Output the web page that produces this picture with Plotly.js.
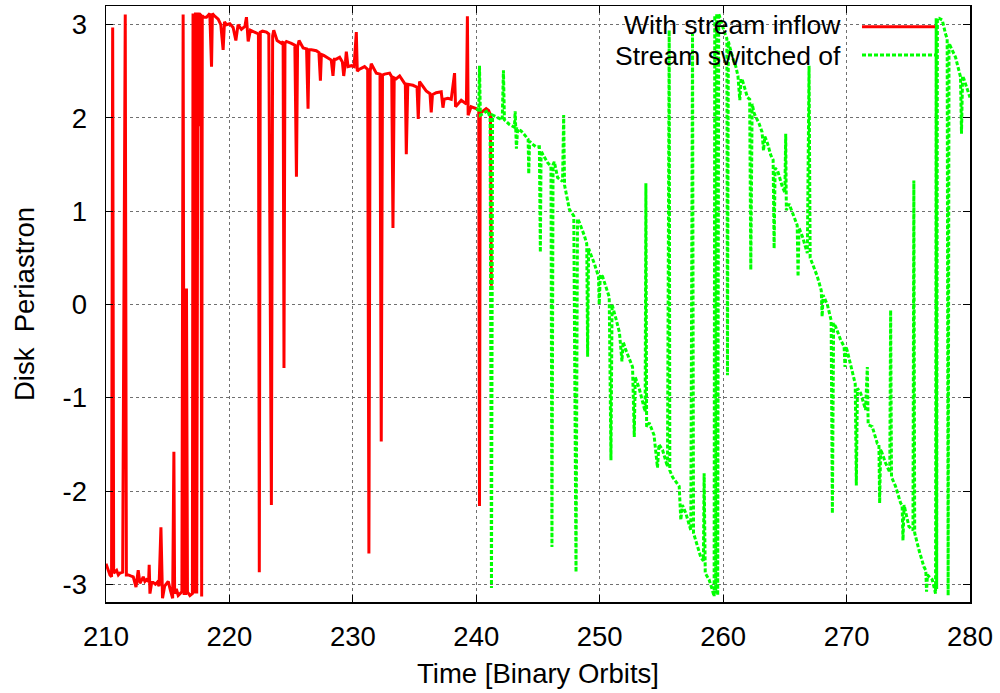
<!DOCTYPE html>
<html>
<head>
<meta charset="utf-8">
<script src="https://cdn.plot.ly/plotly-3.0.1.min.js"></script>
<style>html,body{margin:0;padding:0;background:#fff;}#chart{width:1000px;height:693px;}</style>
</head>
<body>
<div id="chart"></div>
<script>
// Series 1: "With stream inflow"
const redTime = [210.0,210.15,210.32,210.45,210.54,210.62,210.86,211.0,211.13,211.35,211.56,211.65,211.81,212.0,212.21,212.43,212.61,212.75,212.9,213.02,213.15,213.29,213.45,213.5,213.56,213.7,213.83,214.0,214.15,214.3,214.45,214.52,214.58,214.75,214.9,215.04,215.23,215.4,215.5,215.56,215.7,215.85,216.0,216.15,216.25,216.33,216.45,216.52,216.6,216.8,217.0,217.05,217.15,217.25,217.35,217.45,217.5,217.55,217.7,217.75,217.8,217.87,218.14,218.41,218.55,218.62,218.74,219.09,219.3,219.49,219.6,219.76,220.03,220.3,220.52,220.7,220.97,221.25,221.38,221.52,221.7,222.05,222.35,222.42,222.5,222.68,223.0,223.19,223.4,223.5,223.59,223.86,224.21,224.35,224.42,224.5,224.62,225.02,225.3,225.43,225.52,225.64,225.97,226.25,226.37,226.45,226.64,227.04,227.25,227.37,227.45,227.64,227.99,228.25,228.39,228.5,228.66,228.93,229.15,229.26,229.4,229.47,229.61,229.88,230.1,230.28,230.36,230.5,230.95,231.2,231.3,231.4,231.49,231.9,232.2,232.3,232.4,232.57,232.98,233.15,233.25,233.35,233.52,233.79,234.19,234.25,234.33,234.45,234.87,235.2,235.3,235.4,235.94,236.25,236.35,236.45,236.75,237.16,237.3,237.4,237.7,237.97,238.24,238.32,238.78,239.05,239.2,239.28,239.34,239.58,239.99,240.2,240.26,240.32,240.6,240.8,241.0,241.15,241.22];
const redPeri = [-2.78,-2.84,-2.9,-2.92,2.97,-2.88,-2.85,-2.9,-2.88,-2.87,3.11,-2.9,-2.9,-2.91,-2.92,-3.03,-2.85,-2.99,-2.94,-2.92,-2.97,-2.95,-2.97,-2.79,-3.1,-2.98,-2.98,-3.0,-2.98,-3.02,-2.39,-3.02,-3.15,-3.02,-3.0,-2.97,-3.07,-3.15,-1.58,-3.1,-3.05,-3.12,-3.1,-3.08,3.11,-3.1,-3.1,0.17,-3.08,-3.12,-3.1,3.12,-3.1,3.13,-3.1,3.13,1.91,3.12,3.1,-3.13,3.1,3.08,3.08,3.12,2.55,3.12,3.1,3.06,3.0,2.73,3.03,3.0,3.01,2.97,2.83,3.0,2.95,2.98,3.08,2.82,2.94,2.92,2.9,-2.87,2.92,2.93,2.92,2.9,-2.15,2.88,2.94,2.83,2.8,2.82,-0.68,2.8,2.82,2.8,2.78,1.37,2.76,2.83,2.75,2.74,2.1,2.73,2.73,2.72,2.7,2.4,2.68,2.67,2.64,2.62,2.45,2.63,2.63,2.65,2.6,2.45,2.6,2.71,2.55,2.56,2.55,2.92,2.5,2.52,2.55,2.52,-2.67,2.5,2.58,2.48,2.47,-1.47,2.46,2.47,2.48,2.44,0.82,2.43,2.42,2.45,2.37,2.38,1.61,2.36,2.35,2.33,1.99,2.39,2.29,2.26,2.06,2.25,2.27,2.28,2.11,2.2,2.21,2.2,2.48,2.12,2.19,2.17,2.15,3.09,2.03,2.12,2.1,2.08,-2.16,2.05,2.08,2.1,2.08,2.03,0.2];

// Series 2: "Stream switched of"
const greenTime = [239.99,240.2,240.26,240.33,240.6,240.93,241.12,241.23,241.32,241.5,241.74,242.1,242.2,242.28,242.68,243.09,243.15,243.25,243.35,243.63,244.03,244.2,244.25,244.32,244.44,244.84,245.11,245.19,245.25,245.38,245.78,246.05,246.13,246.22,246.32,246.59,246.99,247.08,247.15,247.27,247.54,247.9,248.08,248.2,248.35,248.75,248.95,249.02,249.1,249.15,249.56,249.9,249.96,250.05,250.23,250.5,250.77,250.91,251.0,251.31,251.6,251.8,251.9,252.12,252.66,252.8,252.88,253.2,253.47,253.68,253.74,253.8,254.01,254.4,254.68,254.8,255.09,255.49,255.63,255.68,255.9,256.2,256.44,256.57,256.7,256.98,257.38,257.52,257.6,257.78,258.19,258.4,258.46,258.55,258.86,259.1,259.27,259.32,259.4,259.48,259.56,259.64,259.9,260.1,260.3,260.35,260.42,260.76,261.03,261.2,261.35,261.45,261.57,261.97,262.15,262.24,262.35,262.51,262.91,263.15,263.27,263.38,263.59,263.86,264.05,264.13,264.21,264.4,264.8,265.0,265.07,265.12,265.34,265.75,266.0,266.07,266.15,266.42,266.82,266.96,267.05,267.23,267.63,267.95,268.02,268.1,268.44,268.75,268.85,268.95,269.12,269.52,269.8,269.87,269.95,270.06,270.47,270.7,270.79,270.88,271.14,271.54,271.68,271.75,272.08,272.49,272.62,272.68,272.76,273.16,273.5,273.57,273.64,273.97,274.38,274.5,274.57,274.66,275.05,275.38,275.45,275.52,275.86,276.26,276.42,276.48,276.55,276.94,277.21,277.26,277.3,277.36,277.48,277.75,278.02,278.15,278.23,278.3,278.83,279.23,279.31,279.4,279.5,279.85,280.0];
const greenPeri = [2.1,2.08,2.56,2.03,2.05,2.08,2.0,-3.04,2.03,2.02,2.0,1.98,2.51,1.98,1.93,1.9,2.07,1.67,1.88,1.86,1.8,1.77,1.4,1.75,1.73,1.69,1.69,0.56,1.65,1.61,1.52,1.48,-2.6,1.5,1.53,1.36,1.32,2.03,1.28,1.2,1.02,0.95,-2.87,0.92,0.88,0.74,0.65,-0.56,0.6,0.58,0.44,0.3,0.0,0.32,0.3,0.18,0.08,-1.67,0.0,-0.15,-0.3,-0.61,-0.4,-0.49,-0.67,-1.42,-0.78,-0.9,-1.06,-1.15,1.3,-1.31,-1.27,-1.4,-1.75,-1.5,-1.56,-1.74,2.94,-1.78,-1.85,-1.9,-1.95,-2.31,-2.15,-2.24,-2.42,2.9,-2.45,-2.53,-2.71,-2.75,-1.81,-2.88,-2.95,-3.05,-3.13,3.1,-3.1,3.12,-3.12,3.12,3.0,2.92,2.85,-0.76,2.82,2.65,2.55,2.45,2.19,2.42,2.4,2.22,2.2,0.37,2.15,2.05,1.94,1.85,1.65,1.8,1.73,1.6,1.55,0.6,1.46,1.44,1.26,1.2,1.83,1.01,1.08,0.94,0.85,0.3,0.82,0.73,0.55,2.56,0.5,0.44,0.3,0.15,-0.13,0.1,0.0,-0.17,-2.24,-0.2,-0.24,-0.38,-0.45,-0.67,-0.45,-0.5,-0.74,-0.85,-1.94,-0.9,-0.95,-1.13,-0.67,-1.29,-1.31,-1.49,-1.5,-2.13,-1.55,-1.7,-1.8,-0.06,-1.85,-1.95,-2.13,-2.15,-2.53,-2.15,-2.38,-2.42,1.33,-2.45,-2.63,-2.81,-2.85,-3.08,-2.9,-2.95,-3.1,3.07,-3.05,3.07,3.07,3.05,2.9,2.85,-3.12,2.8,2.65,2.44,1.83,2.45,2.42,2.26,2.22];

const seriesNames = ['With stream inflow', 'Stream switched of'];
const xTicks = [210, 220, 230, 240, 250, 260, 270, 280];
const yTicks = [-3, -2, -1, 0, 1, 2, 3];

const FONT = 'Liberation Sans, Arial, Helvetica, sans-serif';
const FS = 27.5;
const KEYFS = 26.5;

const traces = [
  {x: redTime, y: redPeri, type: 'scatter', mode: 'lines', name: seriesNames[0],
   line: {color: '#ff0000', width: 3}, showlegend: false},
  {x: greenTime, y: greenPeri, type: 'scatter', mode: 'lines', name: seriesNames[1],
   line: {color: '#00ff00', width: 3, dash: '4px,2px'}, showlegend: false}
];

const axisCommon = {
  showgrid: true, gridcolor: '#707070', griddash: 'dot', gridwidth: 1,
  zeroline: false, showline: true, linecolor: '#000', linewidth: 1.5,
  ticks: 'inside', ticklen: 7, tickwidth: 1, tickcolor: '#000', mirror: 'ticks',
  tickfont: {family: FONT, size: FS, color: '#000'}
};

const layout = {
  width: 1000, height: 693,
  margin: {l: 106, r: 30, t: 6, b: 91},
  paper_bgcolor: '#fff', plot_bgcolor: '#fff',
  font: {family: FONT, size: FS, color: '#000'},
  showlegend: false,
  xaxis: Object.assign({}, axisCommon, {
    range: [210, 280], tickmode: 'array', tickvals: xTicks, ticktext: xTicks.map(String),
    ticklabelstandoff: 9,
    title: {text: 'Time [Binary Orbits]', font: {family: FONT, size: FS, color: '#000'}, standoff: 13}
  }),
  yaxis: Object.assign({}, axisCommon, {
    range: [-3.19, 3.2], tickmode: 'array', tickvals: yTicks, ticktext: yTicks.map(String),
    ticklabelstandoff: 12,
    title: {text: 'Disk\u00a0 Periastron', font: {family: FONT, size: FS, color: '#000'}, standoff: 20}
  }),
  shapes: [
    {type: 'rect', xref: 'paper', yref: 'paper', x0: 0.4977, x1: 0.979, y0: 0.8926, y1: 1,
     fillcolor: '#fff', line: {width: 0}, layer: 'between'},
    {type: 'line', xref: 'paper', yref: 'paper', x0: 0.875, x1: 0.9595, y0: 0.9653, y1: 0.9653,
     line: {color: '#ff0000', width: 3}},
    {type: 'line', xref: 'paper', yref: 'paper', x0: 0.875, x1: 0.9595, y0: 0.9178, y1: 0.9178,
     line: {color: '#00ff00', width: 3, dash: '4px,2px'}}
  ],
  annotations: [
    {xref: 'paper', yref: 'paper', x: 0.853, y: 0.9681, xanchor: 'right', yanchor: 'middle',
     text: seriesNames[0], showarrow: false, font: {family: FONT, size: KEYFS, color: '#000'}},
    {xref: 'paper', yref: 'paper', x: 0.853, y: 0.9161, xanchor: 'right', yanchor: 'middle',
     text: seriesNames[1], showarrow: false, font: {family: FONT, size: KEYFS, color: '#000'}}
  ]
};

Plotly.newPlot('chart', traces, layout, {staticPlot: true, displayModeBar: false});
</script>
</body>
</html>
